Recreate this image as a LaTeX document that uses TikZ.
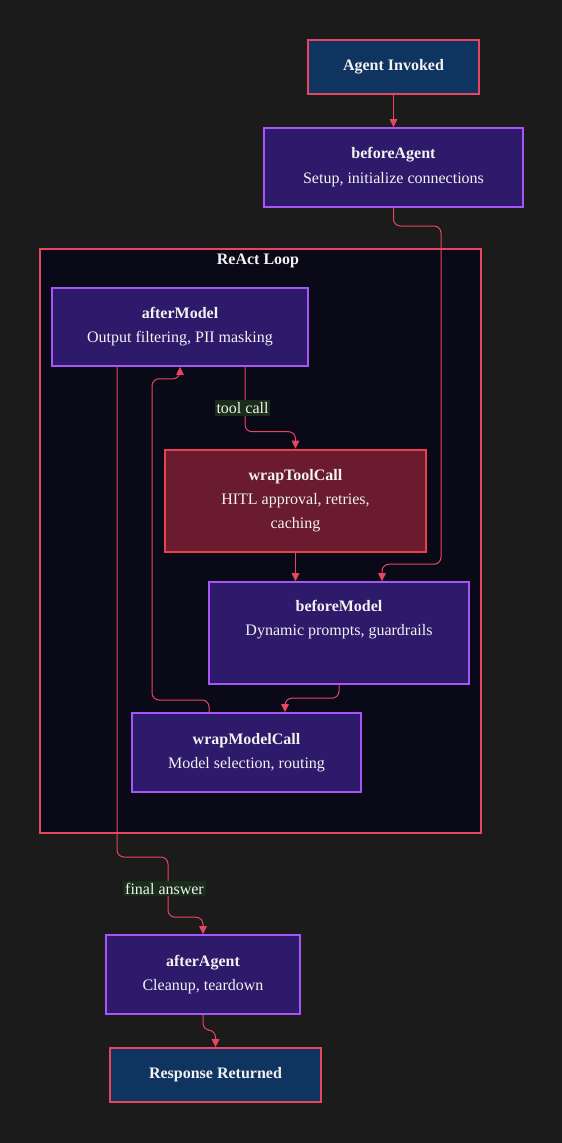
\documentclass[tikz,border=0pt]{standalone}
\usepackage{fontspec}
\setmainfont{Liberation Serif}
\usetikzlibrary{arrows.meta,calc}
\definecolor{bgc}{HTML}{1B1B1B}
\definecolor{clfill}{HTML}{0A0918}
\definecolor{redl}{HTML}{E94560}
\definecolor{bluef}{HTML}{0F3460}
\definecolor{purf}{HTML}{2E1A6A}
\definecolor{purb}{HTML}{A855F7}
\definecolor{toolf}{HTML}{6A1C2E}
\definecolor{toolb}{HTML}{E8404C}
\definecolor{lblf}{HTML}{1A2C1A}
\definecolor{txt}{HTML}{F2F2F2}
\begin{document}
\begin{tikzpicture}[x=1pt,y=-1pt,
  every node/.style={font=\fontsize{16}{19}\selectfont, text=txt},
  box/.style={draw, inner sep=0pt, align=center},
  endbox/.style={box, fill=bluef, draw=redl, line width=1.6pt, font=\fontsize{16}{19}\selectfont\bfseries},
  hookbox/.style={box, fill=purf, draw=purb, line width=1.6pt},
  toolbox/.style={box, fill=toolf, draw=toolb, line width=2.6pt},
  edge/.style={draw=redl, line width=1pt, rounded corners=7pt, -{Triangle[length=8pt,width=7.5pt]}},
  elabel/.style={fill=lblf, inner sep=2pt}
]
\useasboundingbox[fill=bgc] (0,0) rectangle (562,1143);
% cluster
\node[draw=redl, fill=clfill, line width=1.3pt, minimum width=441pt, minimum height=584pt, inner sep=0pt] (loop) at (260.5,541) {};
\node[font=\fontsize{16}{19}\selectfont\bfseries] (looptitle) at (258,261) {ReAct Loop};
% nodes
\node[endbox, minimum width=171pt, minimum height=54pt] (ai) at (393.5,67) {Agent Invoked};
\node[hookbox, minimum width=259pt, minimum height=79pt] (ba) at (393.5,167.5) {\textbf{beforeAgent}\\[6pt]Setup, initialize connections};
\node[hookbox, minimum width=256pt, minimum height=78pt] (am) at (180,327) {\textbf{afterModel}\\[5pt]Output filtering, PII masking};
\node[toolbox, minimum width=261pt, minimum height=102pt] (wtc) at (295.5,501) {\textbf{wrapToolCall}\\[5pt]HITL approval, retries,\\[5pt]caching};
\node[hookbox, minimum width=260pt, minimum height=102pt] (bm) at (339,633) {};
\node[align=center] (bmtext) at (339,620) {\textbf{beforeModel}\\[5pt]Dynamic prompts, guardrails};
\node[hookbox, minimum width=229pt, minimum height=79pt] (wmc) at (246.5,752.5) {\textbf{wrapModelCall}\\[5pt]Model selection, routing};
\node[hookbox, minimum width=194pt, minimum height=79pt] (aa) at (203,974.5) {\textbf{afterAgent}\\[5pt]Cleanup, teardown};
\node[endbox, minimum width=211pt, minimum height=54pt] (rr) at (215.5,1075) {Response Returned};
% edges
\draw[edge] (ai.south) -- (ba.north);
\draw[edge] (ba.south) |- (441,226) |- ($(bm.north)+(43,-17)$) -- ($(bm.north)+(43,0)$);
\draw[edge] (bm.south) |- ($(wmc.north)+(38.5,-14)$) -- ($(wmc.north)+(38.5,0)$);
\draw[edge] ($(wmc.north)+(-37.5,0)$) |- (152,700) |- ($(am.south)+(0,12)$) -- (am.south);
\draw[edge] ($(am.south)+(65,0)$) |- ($(wtc.north)+(0,-17)$) -- (wtc.north);
\draw[edge] (wtc.south) -- ($(bm.north)+(-43.5,0)$);
\draw[edge] ($(am.south)+(-63,0)$) |- (168,857) |- ($(aa.north)+(0,-17)$) -- (aa.north);
\draw[edge] (aa.south) |- ($(rr.north)+(0,-17)$) -- (rr.north);
% edge labels
\node[elabel] (tl) at (242.5,408) {tool call};
\node[elabel] (fl) at (164.5,888.5) {final answer};
\end{tikzpicture}
\end{document}
